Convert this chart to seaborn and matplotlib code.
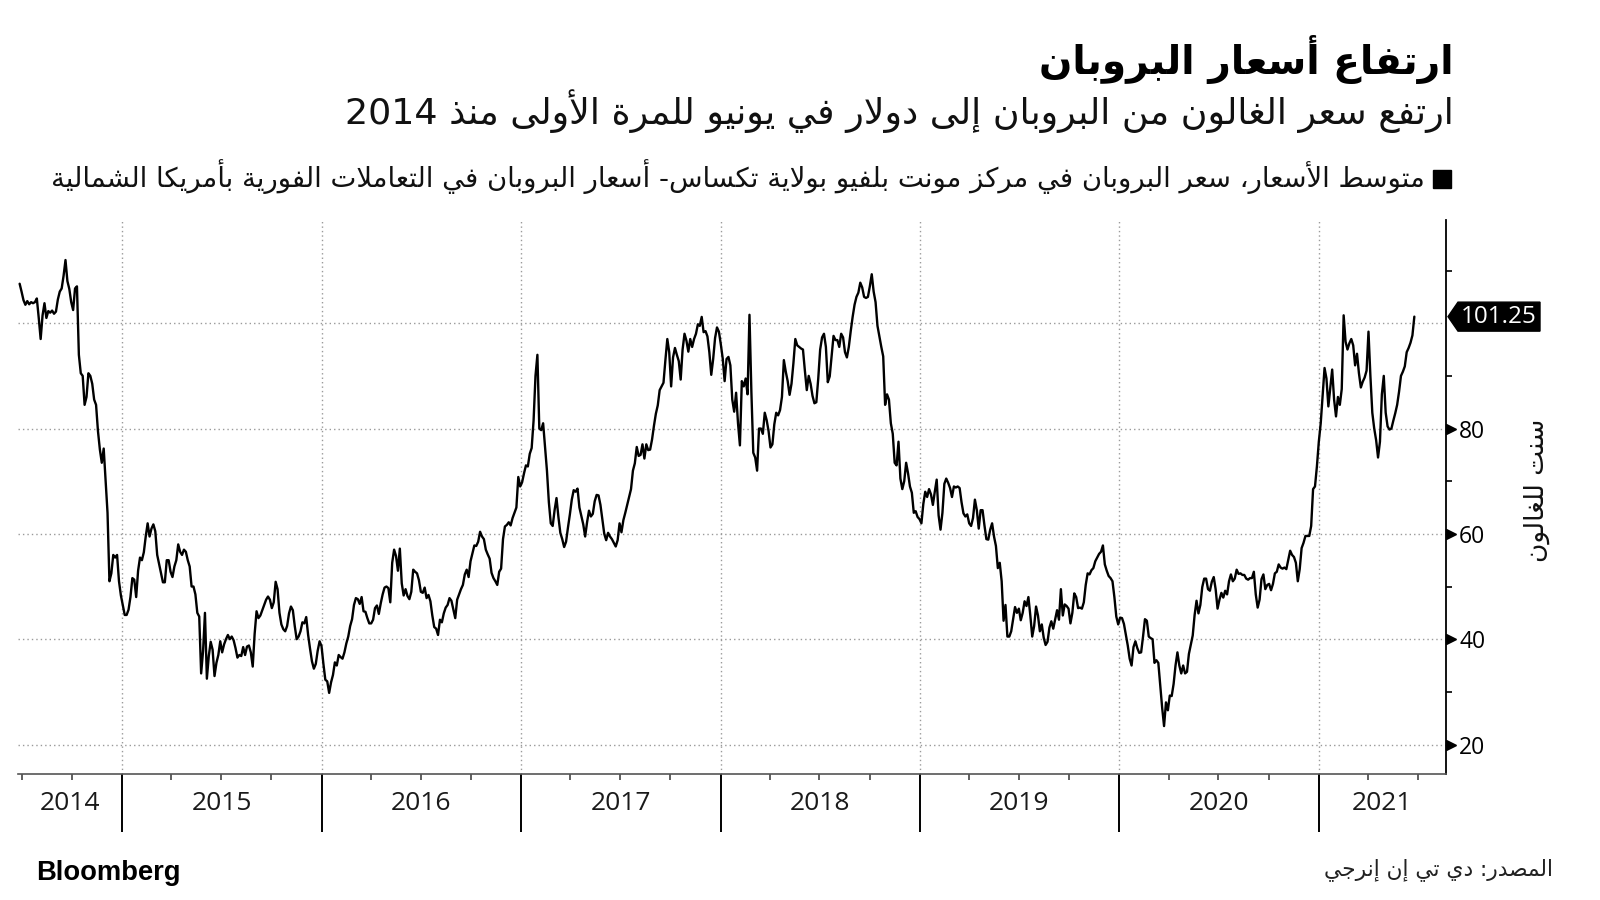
import re
import numpy as np
import pandas as pd
import matplotlib
matplotlib.use("Agg")
import matplotlib.pyplot as plt
import matplotlib.dates as mdates
import matplotlib.transforms as mtransforms
from matplotlib.patches import Polygon, Rectangle
import seaborn as sns

# propane, Mont Belvieu, US cents per gallon, every 3.5 days
start_date = "2014-06-27"
prices_2014 = [107.5, 106, 104.4, 103.5, 104.2, 103.6, 104, 103.8, 104, 104.7,
               101, 97, 101.5, 103.8, 101, 102.3, 102, 102.4, 101.8, 102.2,
               104.5, 106, 106.6, 109, 112, 108, 106.5, 104, 102.5, 106.6,
               107, 94, 90.5, 90, 84.5, 86, 90.5, 90, 88.5, 85.5,
               84.5, 79.5, 76, 73.5, 76.2, 70, 64, 51, 52.5, 56,
               55.5, 56, 51, 48.3]
prices_2015 = [46.5, 44.6, 44.6, 45.6, 48, 51.6, 51.3, 48, 53, 55.5,
               55, 56.5, 59.5, 62, 59.5, 61, 61.8, 60.5, 56, 54.3,
               52.5, 50.8, 50.8, 55, 55, 52.8, 51.8, 53.8, 55, 58,
               56.6, 56, 57, 56.6, 55, 53.8, 50, 50, 48.5, 45,
               44.3, 33.5, 37.7, 45, 32.5, 36.8, 39.5, 38, 33, 35.5,
               37, 39.6, 37.5, 39, 40, 40.8, 40, 40.5, 39.8, 38.3,
               36.5, 37, 36.8, 38.5, 37, 38.6, 38.8, 37.5, 34.8, 41,
               45.3, 44, 44.5, 45.5, 46.5, 47.5, 48.1, 47.5, 45.9, 47,
               50.9, 49.5, 45, 42.8, 41.9, 41.5, 42.5, 44.9, 46.2, 45.5,
               42.5, 40, 40.5, 41.5, 43.2, 43, 44.2, 40.8, 38.2, 35.8,
               34.4, 35.3, 37.8, 39.6]
prices_2016 = [38.7, 35.3, 32.3, 32, 29.8, 31.8, 33.2, 35.6, 35, 37,
               36.6, 36.3, 37.5, 39.2, 40.5, 42.5, 43.8, 46.5, 47.8, 47.6,
               46.7, 48, 45.3, 45.2, 44, 43, 43, 43.7, 45.9, 46.4,
               44.8, 46.8, 48.5, 49.8, 50, 49.7, 47, 54.5, 57, 55.8,
               53, 57.2, 50.6, 48.3, 49.5, 48.2, 47.6, 49, 53.2, 52.8,
               52.5, 51.2, 49, 48.8, 49.8, 47.8, 48.4, 47.2, 44.5, 42.3,
               42, 40.8, 43.7, 43.2, 44.9, 46, 46.5, 47.8, 47.3, 45.6,
               44, 47.5, 48.5, 49.5, 50.3, 52.3, 53.2, 51.8, 54.8, 56.3,
               57.8, 57.7, 58.5, 60.4, 59.5, 59, 57, 56.1, 55.3, 52.6,
               51.6, 51, 50.3, 52.8, 53.4, 59, 61.4, 61.7, 62.2, 61.6,
               63, 64, 65, 70.8, 69]
prices_2017 = [69.8, 71.5, 73, 72.8, 75.2, 76.3, 81.5, 90, 94, 80,
               79.7, 81, 76.6, 72, 66, 62, 61.5, 64.5, 66.8, 63.2,
               60.2, 59, 57.5, 58.5, 61.2, 63.7, 66.5, 68.3, 68, 68.6,
               65, 63.4, 61.8, 59.5, 62.2, 64.4, 63.3, 63.8, 66.2, 67.4,
               67.3, 65.5, 62.8, 60, 58.8, 60.2, 59.5, 59, 58.3, 57.6,
               58.8, 62, 60.3, 62.6, 64, 65.5, 67, 68.5, 72, 73.4,
               76.5, 74.8, 75, 77, 74.3, 77, 75.9, 76, 77.9, 80.5,
               82.8, 84.4, 87.3, 88, 88.7, 93, 97, 94.5, 88, 93.5,
               95.3, 94, 92.8, 89.3, 95, 98, 96.7, 94.6, 97, 95.5,
               97, 98, 99.8, 99.5, 101.2, 98.3, 98.5, 97.5, 94.5, 90.2,
               93.2, 97.2, 99.2, 98.4]
prices_2018 = [96, 93.3, 89, 93.2, 93.6, 92, 85.5, 83.2, 86.8, 81,
               76.8, 89, 88, 89.5, 86.5, 101.6, 87, 75.4, 74.5, 72,
               80, 80, 79, 83, 81.6, 79.5, 76.4, 77, 80.8, 83,
               82.5, 83.5, 86, 93, 90.8, 89, 86.4, 88.5, 92.4, 97,
               95.8, 95.5, 95.2, 95, 91, 87.3, 90, 88.5, 86.2, 84.8,
               85, 89.5, 95, 97.3, 98, 95.5, 88.8, 89.9, 93.7, 97.6,
               96.8, 96.8, 95.5, 98, 97.3, 94.5, 93.5, 95.5, 98.5, 101.2,
               103.5, 105, 105.8, 107.7, 106.8, 105, 104.8, 105, 107, 109.3,
               106, 104, 99.5, 97.5, 95.5, 93.7, 84.5, 86.5, 85.5, 81,
               79, 73.5, 73, 77.5, 70.5, 68.5, 70, 73.5, 71.5, 69,
               67.8, 64, 64.3, 63.2, 62.8]
prices_2019 = [62, 65.7, 68, 67, 68.5, 67.5, 65.5, 68, 70.3, 63.5,
               60.8, 64, 69.5, 70.5, 69.7, 68.7, 67, 69, 68.8, 69,
               68.7, 66, 63.9, 63.3, 63.7, 62, 61.5, 63, 66.5, 64.5,
               61, 64.5, 64.5, 61.6, 59, 58.9, 60.8, 62, 59.5, 57.7,
               53.5, 54.5, 51, 43.5, 46.5, 40.5, 40.5, 41.5, 43.8, 46.1,
               45, 45.8, 43.6, 45, 47.2, 46.3, 48, 44.5, 40.5, 42.5,
               46.2, 44.5, 41.5, 42.8, 40.3, 38.9, 39.5, 42.2, 43.4, 42,
               43.8, 45.5, 43.7, 49.5, 44.5, 46.6, 46.3, 45.8, 43, 45,
               48.7, 48, 45.9, 46, 45.8, 47, 50.3, 52.5, 52.3, 53.1,
               53.5, 54.8, 55.5, 56.2, 56.6, 57.8, 54.2, 53, 52, 51.6,
               51, 48, 44.3, 42.8]
prices_2020 = [44.1, 44, 42.9, 40.9, 38.8, 36.3, 35, 38.5, 39.6, 38.3,
               37.4, 37.5, 40.5, 43.8, 43.5, 40.5, 40.2, 40, 35.5, 36,
               35.5, 31.2, 27, 23.5, 28, 26.5, 29.3, 29.2, 31.5, 35,
               37.5, 35, 33.5, 35, 33.5, 33.8, 37.2, 39, 40.7, 44.6,
               47.3, 44.9, 46.5, 49.9, 51.5, 51.5, 49.5, 49.2, 50.9, 51.8,
               49.5, 45.8, 47.5, 48.8, 47.9, 49.2, 48.5, 51, 52.3, 51,
               51.5, 53.2, 52.4, 52.5, 52.2, 52.2, 51.5, 51.3, 51.6, 51.6,
               52.8, 48.5, 46, 47.5, 51.4, 52.3, 49.5, 50.3, 50.5, 49.3,
               50.5, 52.5, 52.8, 54.2, 53.6, 53.4, 53.6, 53.3, 55.1, 56.8,
               56, 55.6, 54.5, 51, 53.3, 57.3, 58.3, 59.6, 59.6, 59.6,
               61.5, 68.5, 69, 72.8]
prices_2021 = [77.5, 81, 86.3, 91.5, 89.5, 84.2, 87.8, 91.2, 85.5, 82.3,
               86, 84.5, 87.5, 101.5, 96.5, 95, 96.2, 97, 95.8, 92,
               94.2, 90.5, 87.8, 88.9, 89.7, 91, 98.4, 90, 83, 80,
               77.8, 74.5, 77.5, 86.5, 90, 83, 80.4, 79.8, 80, 81.5,
               82.9, 84.5, 87, 90, 90.8, 91.8, 94.5, 95.3, 96.3, 97.7,
               101.25]
last_label = "101.25"

years = [2014, 2015, 2016, 2017, 2018, 2019, 2020, 2021]
y_major = [20, 40, 60, 80, 100]
y_minor = [30, 50, 70, 90, 110]

title = "ارتفاع أسعار البروبان"
subtitle = "ارتفع سعر الغالون من البروبان إلى دولار في يونيو للمرة الأولى منذ 2014"
legend_label = ("متوسط الأسعار، سعر البروبان في مركز مونت بلفيو بولاية تكساس- "
                "أسعار البروبان في التعاملات الفورية بأمريكا الشمالية")
y_label = "سنت للغالون"
source = "المصدر: دي تي إن إنرجي"

# --- minimal arabic shaping (matplotlib has no complex text layout) ---
DUAL = {"ئ": 0xFE89, "ب": 0xFE8F, "ت": 0xFE95, "ث": 0xFE99, "ج": 0xFE9D, "ح": 0xFEA1,
        "خ": 0xFEA5, "س": 0xFEB1, "ش": 0xFEB5, "ص": 0xFEB9, "ض": 0xFEBD, "ط": 0xFEC1,
        "ظ": 0xFEC5, "ع": 0xFEC9, "غ": 0xFECD, "ف": 0xFED1, "ق": 0xFED5, "ك": 0xFED9,
        "ل": 0xFEDD, "م": 0xFEE1, "ن": 0xFEE5, "ه": 0xFEE9, "ي": 0xFEF1}
RIGHT = {"آ": 0xFE81, "أ": 0xFE83, "ؤ": 0xFE85, "إ": 0xFE87, "ا": 0xFE8D, "ة": 0xFE93,
         "د": 0xFEA9, "ذ": 0xFEAB, "ر": 0xFEAD, "ز": 0xFEAF, "و": 0xFEED, "ى": 0xFEEF}
LAM_ALEF = {"آ": 0xFEF5, "أ": 0xFEF7, "إ": 0xFEF9, "ا": 0xFEFB}


def ar(text):
    toks = []
    i = 0
    while i < len(text):
        c = text[i]
        if c == "ل" and i + 1 < len(text) and text[i + 1] in LAM_ALEF:
            toks.append(("lig", text[i + 1]))
            i += 2
        else:
            toks.append(("chr", c))
            i += 1

    def is_letter(t):
        return t[0] == "lig" or t[1] in DUAL or t[1] in RIGHT

    out = []
    for k, t in enumerate(toks):
        prev = toks[k - 1] if k > 0 else None
        nxt = toks[k + 1] if k + 1 < len(toks) else None
        back = prev is not None and prev[0] == "chr" and prev[1] in DUAL and is_letter(t)
        fwd = nxt is not None and is_letter(nxt)
        if t[0] == "lig":
            out.append(chr(LAM_ALEF[t[1]] + int(back)))
        elif t[1] in DUAL:
            b = DUAL[t[1]]
            out.append(chr(b + (3 if back and fwd else 1 if back else 2 if fwd else 0)))
        elif t[1] in RIGHT:
            out.append(chr(RIGHT[t[1]] + int(back)))
        else:
            out.append(t[1])
    visual = "".join(out)[::-1]
    return re.sub(r"[0-9A-Za-z.]+", lambda m: m.group(0)[::-1], visual)


prices = (prices_2014 + prices_2015 + prices_2016 + prices_2017 +
          prices_2018 + prices_2019 + prices_2020 + prices_2021)
df = pd.DataFrame({
    "date": pd.date_range(start_date, periods=len(prices), freq="84h"),
    "price": prices,
})

sns.set_style("white")
plt.rcParams["font.family"] = ["Open Sans", "DejaVu Sans"]
AR = ["DejaVu Sans"]

W, H = 1600, 900
fig = plt.figure(figsize=(16, 9), dpi=100, facecolor="white")
ax = fig.add_axes([18 / W, 1 - 774 / H, (1446 - 18) / W, (774 - 220) / H])

sns.lineplot(data=df, x="date", y="price", color="black", lw=1.7, ax=ax)

ax.set_xlim(pd.Timestamp("2014-06-24"), pd.Timestamp("2021-08-22"))
ax.set_ylim(14.4, 119.6)
ax.set_xlabel("")
ax.set_ylabel("")
for s in ["top", "left"]:
    ax.spines[s].set_visible(False)
ax.spines["right"].set_color("black")
ax.spines["right"].set_linewidth(1.3)
ax.spines["bottom"].set_color("#555555")
ax.spines["bottom"].set_linewidth(1.2)

# y axis on the right, bloomberg style
ax.yaxis.tick_right()
ax.set_yticks(y_major)
ax.set_yticklabels([str(v) if v != 100 else "" for v in y_major])
ax.set_yticks(y_minor, minor=True)
ax.tick_params(axis="y", which="major", length=0, pad=9.5, labelsize=16.5,
               labelcolor="black", right=True, left=False)
ax.tick_params(axis="y", which="minor", length=4, width=1.2, color="black",
               right=True, left=False)

# x axis: long year separators, quarterly small ticks
ax.xaxis.set_major_locator(mdates.YearLocator())
ax.xaxis.set_minor_locator(mdates.MonthLocator(bymonth=[4, 7, 10]))
ax.tick_params(axis="x", which="major", length=42, width=1.4, color="black",
               bottom=True, labelbottom=False)
ax.tick_params(axis="x", which="minor", length=4, width=1.2, color="#444444",
               bottom=True)

ax.grid(True, which="major", axis="both", color="#9a9a9a",
        linestyle=(0, (1, 2.2)), lw=1.0)

trans = mtransforms.blended_transform_factory(ax.transAxes, ax.transData)
nudge = mtransforms.ScaledTranslation(5 / 100, 0, fig.dpi_scale_trans)
for v in y_major[:-1]:
    ax.plot([1.0], [v], marker=">", ms=6.5, color="black", transform=trans + nudge,
            clip_on=False)

xmin, xmax = ax.get_xlim()
xtrans = mtransforms.blended_transform_factory(ax.transData, ax.transAxes)
for y in years:
    a = max(mdates.date2num(pd.Timestamp(f"{y}-01-01")), xmin)
    b = min(mdates.date2num(pd.Timestamp(f"{y + 1}-01-01")), xmax)
    ax.text((a + b) / 2, -29 / 554, str(y), transform=xtrans, ha="center",
            va="center", fontsize=19, color="#1a1a1a")

# last value tag
to_fig = fig.transFigure.inverted()
tx, ty = trans.transform((1.0, prices[-1]))
tx += 2
verts = [(tx, ty), (tx + 10, ty + 14.5), (tx + 92, ty + 14.5),
         (tx + 92, ty - 14.5), (tx + 10, ty - 14.5)]
fig.patches.append(Polygon(to_fig.transform(verts), closed=True,
                           transform=fig.transFigure, color="black", zorder=5))
cx, cy = to_fig.transform((tx + 51, ty))
fig.text(cx, cy, last_label, color="white", ha="center", va="center",
         fontsize=17.5, zorder=6)

renderer = fig.canvas.get_renderer()


def fit(t, px, along="width"):
    bb = t.get_window_extent(renderer)
    cur = bb.width if along == "width" else bb.height
    t.set_fontsize(t.get_fontsize() * px / cur)
    return t


fit(fig.text(1454 / W, 1 - 74 / H, ar(title), ha="right", va="baseline",
             fontsize=30, fontweight="bold", family=AR, color="black"), 414)
fit(fig.text(1454 / W, 1 - 124 / H, ar(subtitle), ha="right", va="baseline",
             fontsize=24, family=AR, color="#111111"), 1114)
fit(fig.text(1425 / W, 1 - 187 / H, ar(legend_label), ha="right", va="baseline",
             fontsize=18, family=AR, color="#111111"), 1374)
fig.patches.append(Rectangle((1433 / W, 1 - 188 / H), 18 / W, 18 / H,
                             transform=fig.transFigure, color="black"))
fit(fig.text(1537 / W, 1 - 490 / H, ar(y_label), rotation=90, ha="center",
             va="center", fontsize=17, family=AR, color="#111111"), 143, "height")
fit(fig.text(1553 / W, 1 - 875 / H, ar(source), ha="right", va="baseline",
             fontsize=16, family=AR, color="#222222"), 230)
fit(fig.text(36 / W, 1 - 880 / H, "Bloomberg", ha="left", va="baseline",
             fontsize=20, fontweight="bold", family=["Liberation Sans"],
             color="black"), 144)

fig.savefig("out.png", dpi=100, facecolor="white")
